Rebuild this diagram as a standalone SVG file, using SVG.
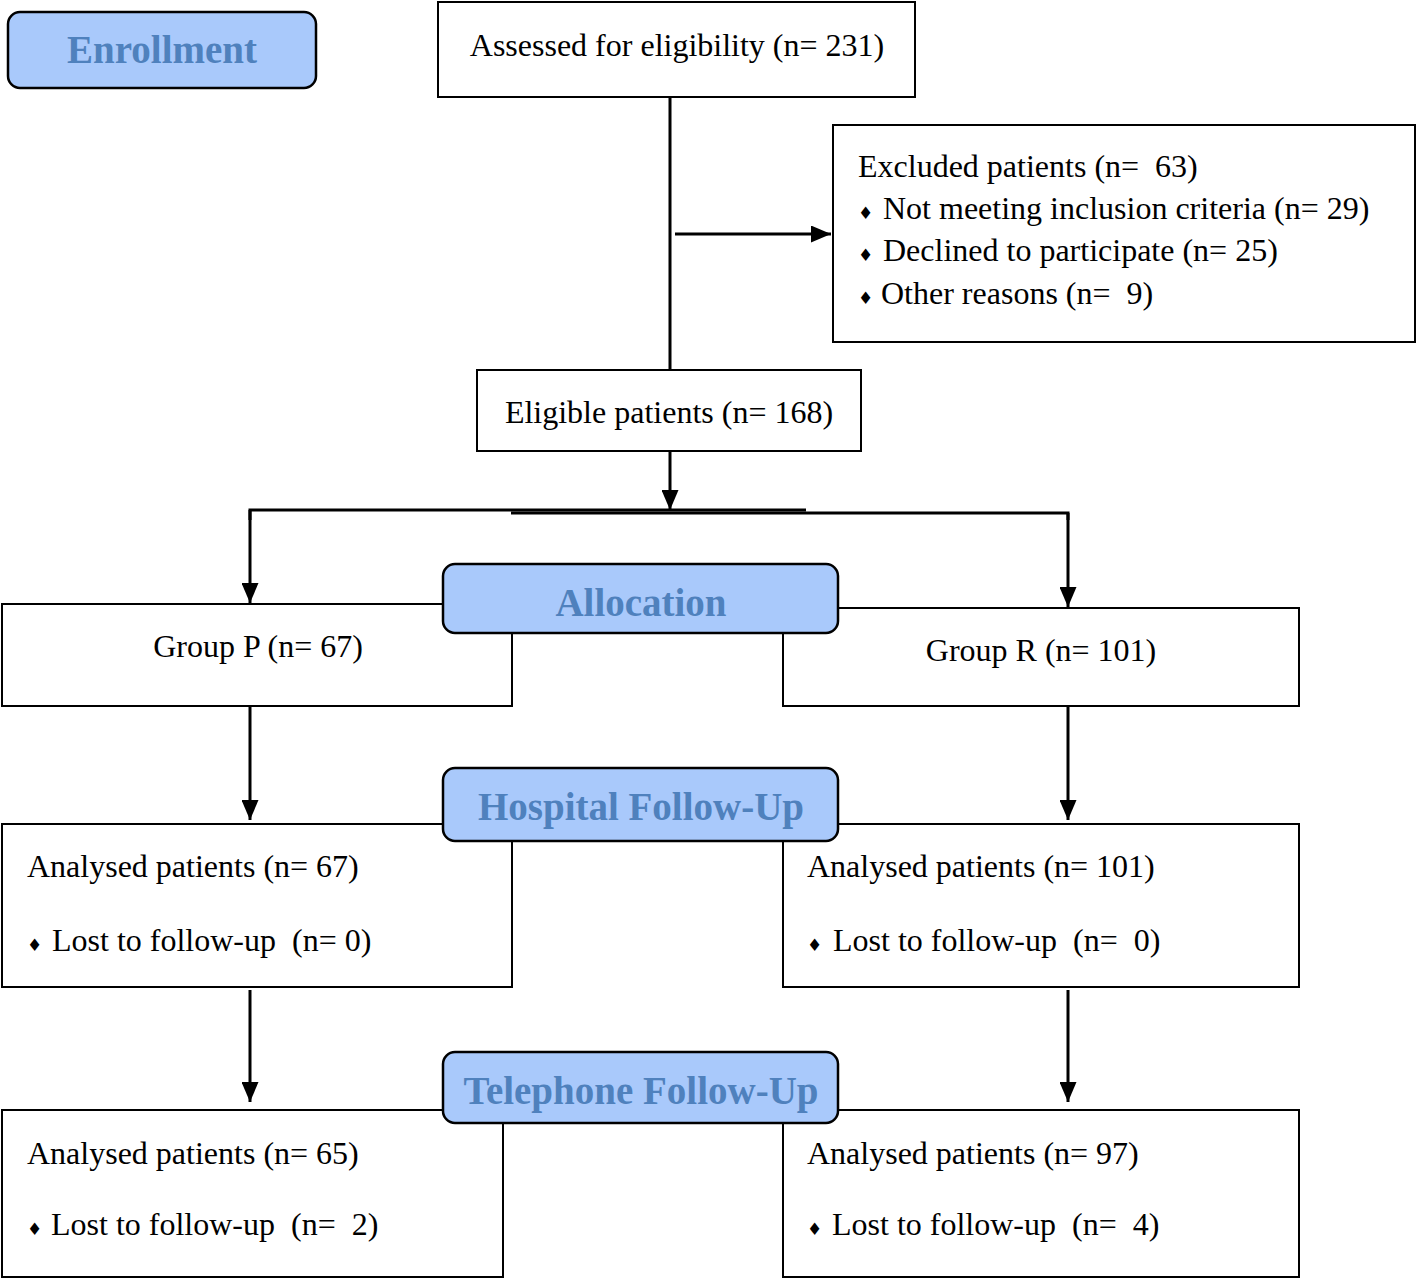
<svg xmlns="http://www.w3.org/2000/svg" width="1418" height="1281" viewBox="0 0 1418 1281">
<style>
.box{fill:#fff;stroke:#000;stroke-width:2}
.stage{fill:#a9c9fb;stroke:#000;stroke-width:2.5}
.t{font-family:"Liberation Serif","Times New Roman",serif;font-size:32px;fill:#000;white-space:pre}
.h{font-family:"Liberation Serif","Times New Roman",serif;font-size:39px;font-weight:bold;fill:#4f81bd;text-anchor:middle}
.b{font-family:"DejaVu Sans",sans-serif;font-size:17px;fill:#000}
.c{fill:none;stroke:#000;stroke-width:3}
</style>
<defs>
<marker id="ah" markerUnits="userSpaceOnUse" markerWidth="20" markerHeight="17" refX="20" refY="8.5" viewBox="0 0 20 17" orient="auto">
<path d="M0,0 L20,8.5 L0,17 Z" fill="#000"/>
</marker>
</defs>
<g id="connectors">
<line class="c" x1="670" y1="97" x2="670" y2="370"/>
<line class="c" x1="675" y1="234" x2="831" y2="234" marker-end="url(#ah)"/>
<line class="c" x1="670" y1="451" x2="670" y2="510" marker-end="url(#ah)"/>
<polyline class="c" points="250,520 250,510 806,510"/>
<line class="c" x1="250" y1="510" x2="250" y2="603" marker-end="url(#ah)"/>
<polyline class="c" points="511,513 1068,513 1068,520"/>
<line class="c" x1="1068" y1="513" x2="1068" y2="607" marker-end="url(#ah)"/>
<line class="c" x1="250" y1="706" x2="250" y2="820" marker-end="url(#ah)"/>
<line class="c" x1="1068" y1="706" x2="1068" y2="820" marker-end="url(#ah)"/>
<line class="c" x1="250" y1="990" x2="250" y2="1102" marker-end="url(#ah)"/>
<line class="c" x1="1068" y1="990" x2="1068" y2="1102" marker-end="url(#ah)"/>
</g>
<g id="enrollment">
<rect class="stage" x="8" y="12" width="308" height="76" rx="12"/>
<text class="h" x="162" y="63">Enrollment</text>
</g>
<g id="assessed">
<rect class="box" x="438" y="2" width="477" height="95"/>
<text class="t" x="677" y="56" text-anchor="middle">Assessed for eligibility (n= 231)</text>
</g>
<g id="excluded">
<rect class="box" x="833" y="125" width="582" height="217"/>
<text class="t" x="858" y="177">Excluded patients (n=  63)</text>
<text class="b" x="858" y="219">♦</text>
<text class="t" x="883" y="219">Not meeting inclusion criteria (n= 29)</text>
<text class="b" x="858" y="261">♦</text>
<text class="t" x="883" y="261">Declined to participate (n= 25)</text>
<text class="b" x="858" y="304">♦</text>
<text class="t" x="881" y="304">Other reasons (n=  9)</text>
</g>
<g id="eligible">
<rect class="box" x="477" y="370" width="384" height="81"/>
<text class="t" x="669" y="423" text-anchor="middle">Eligible patients (n= 168)</text>
</g>
<g id="groupP">
<rect class="box" x="2" y="604" width="510" height="102"/>
<text class="t" x="258" y="657" text-anchor="middle">Group P (n= 67)</text>
</g>
<g id="groupR">
<rect class="box" x="783" y="608" width="516" height="98"/>
<text class="t" x="1041" y="661" text-anchor="middle">Group R (n= 101)</text>
</g>
<g id="allocation">
<rect class="stage" x="443" y="564" width="395" height="69" rx="12"/>
<text class="h" x="641" y="616">Allocation</text>
</g>
<g id="hospP">
<rect class="box" x="2" y="824" width="510" height="163"/>
<text class="t" x="27" y="877">Analysed patients (n= 67)</text>
<text class="b" x="27" y="951">♦</text>
<text class="t" x="52" y="951">Lost to follow-up  (n= 0)</text>
</g>
<g id="hospR">
<rect class="box" x="783" y="824" width="516" height="163"/>
<text class="t" x="807" y="877">Analysed patients (n= 101)</text>
<text class="b" x="807" y="951">♦</text>
<text class="t" x="833" y="951">Lost to follow-up  (n=  0)</text>
</g>
<g id="hospital">
<rect class="stage" x="443" y="768" width="395" height="73" rx="12"/>
<text class="h" x="641" y="820">Hospital Follow-Up</text>
</g>
<g id="telP">
<rect class="box" x="2" y="1110" width="501" height="167"/>
<text class="t" x="27" y="1164">Analysed patients (n= 65)</text>
<text class="b" x="27" y="1235">♦</text>
<text class="t" x="51" y="1235">Lost to follow-up  (n=  2)</text>
</g>
<g id="telR">
<rect class="box" x="783" y="1110" width="516" height="167"/>
<text class="t" x="807" y="1164">Analysed patients (n= 97)</text>
<text class="b" x="807" y="1235">♦</text>
<text class="t" x="832" y="1235">Lost to follow-up  (n=  4)</text>
</g>
<g id="telephone">
<rect class="stage" x="443" y="1052" width="395" height="71" rx="12"/>
<text class="h" x="641" y="1104">Telephone Follow-Up</text>
</g>
</svg>
